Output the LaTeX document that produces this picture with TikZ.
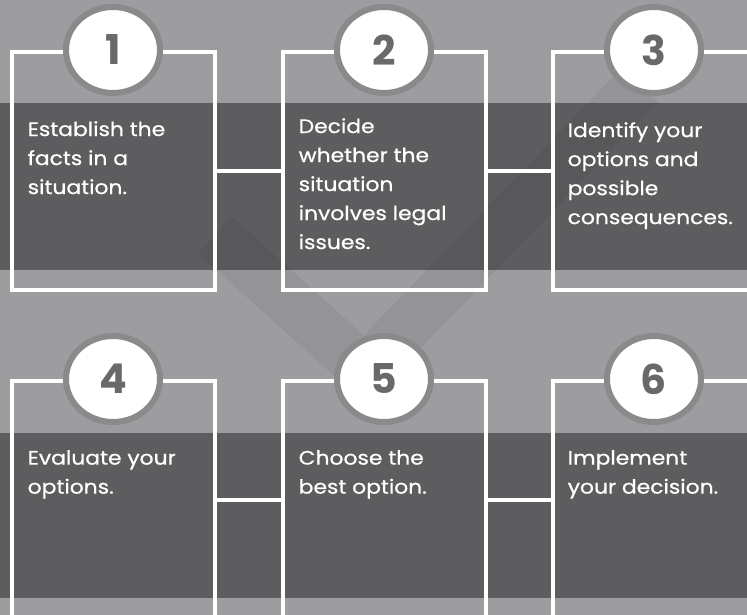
\documentclass[tikz,border=0pt]{standalone}
\usepackage{fontspec}
\setmainfont{Poppins}
\newfontfamily\stepfont{Poppins}[FakeBold=0.6]
\usetikzlibrary{shapes.geometric}
\definecolor{bggray}{HTML}{9D9D9F}
\definecolor{bandgray}{HTML}{5D5D5F}
\definecolor{halogray}{HTML}{8A8A8C}
\definecolor{numgray}{HTML}{69696B}
\begin{document}
\begin{tikzpicture}[x=1pt,y=-1pt,
    stepbox/.style={draw=white,line width=4pt,minimum width=203pt,minimum height=238pt,inner sep=0pt},
    numdisc/.style={ellipse,fill=white,draw=halogray,line width=6pt,minimum width=94pt,minimum height=86pt,
      inner sep=0pt,font=\bfseries\fontsize{41}{41}\selectfont,text=numgray},
    steptext/.style={anchor=north west,align=left,inner sep=0pt,text=white,xscale=1.12,transform shape,
      font=\stepfont\fontsize{19.5}{29}\selectfont},
    link/.style={draw=white,line width=4pt}]
  \useasboundingbox (0,0) rectangle (747,615);
  \clip (0,0) rectangle (747,615);
  \fill[bggray] (0,0) rectangle (747,615);
  % dark bands behind the rows
  \fill[bandgray] (0,103) rectangle (747,270);
  \fill[bandgray] (0,433) rectangle (747,598);
  % faint check mark in the back
  \draw[black,opacity=0.05,line width=50pt] (215,235) -- (365,370) -- (640,85);
  \foreach \i/\x/\y in {1/113/171, 2/384/171, 3/654/171,
                        4/113/500, 5/384/500, 6/654/500} {
    \node[stepbox] (box\i) at (\x,\y) {};
  }
  \draw[link] (box1.east) -- (box2.west);
  \draw[link] (box2.east) -- (box3.west);
  \draw[link] (box4.east) -- (box5.west);
  \draw[link] (box5.east) -- (box6.west);
  \foreach \i in {1,...,6} {
    \node[numdisc] (num\i) at (box\i.north) {\i};
  }
  \node[steptext] (txt1) at ([shift={(18pt,-71pt)}]box1.north west) {Establish the\\facts in a\\situation.};
  \node[steptext] (txt2) at ([shift={(18pt,-68pt)}]box2.north west) {Decide\\whether the\\situation\\involves legal\\issues.};
  \node[steptext] (txt3) at ([shift={(17pt,-72pt)}]box3.north west) {Identify your\\options and\\possible\\consequences.};
  \node[steptext] (txt4) at ([shift={(18pt,-71pt)}]box4.north west) {Evaluate your\\options.};
  \node[steptext] (txt5) at ([shift={(18pt,-71pt)}]box5.north west) {Choose the\\best option.};
  \node[steptext] (txt6) at ([shift={(17pt,-71pt)}]box6.north west) {Implement\\your decision.};
\end{tikzpicture}
\end{document}
